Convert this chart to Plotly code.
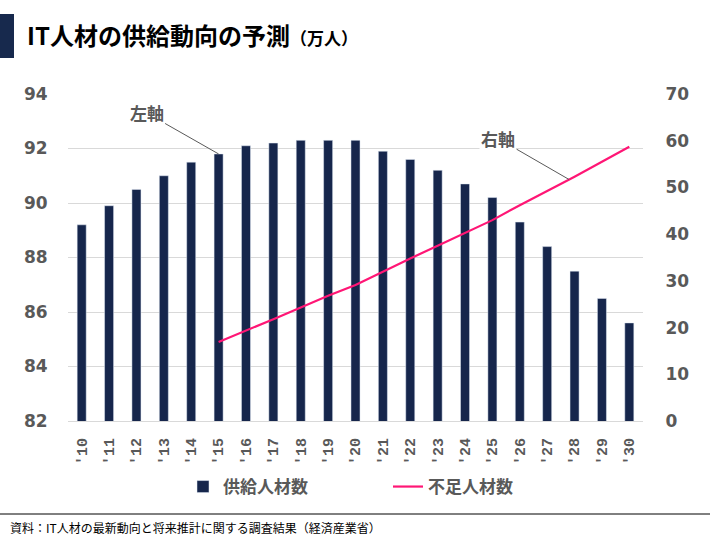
import plotly.graph_objects as go

years = ["'10", "'11", "'12", "'13", "'14", "'15", "'16", "'17", "'18", "'19", "'20",
         "'21", "'22", "'23", "'24", "'25", "'26", "'27", "'28", "'29", "'30"]
supply = [89.2, 89.9, 90.5, 91.0, 91.5, 91.8, 92.1, 92.2, 92.3, 92.3, 92.3,
          91.9, 91.6, 91.2, 90.7, 90.2, 89.3, 88.4, 87.5, 86.5, 85.6]
shortage_years = years[5:]
shortage = [16.9, 19.3, 21.8, 24.3, 26.8, 29.1, 32.0, 34.8, 37.5, 40.2,
            43.0, 46.2, 49.2, 52.3, 55.5, 58.7]
left_ticks = [82, 84, 86, 88, 90, 92, 94]
right_ticks = [0, 10, 20, 30, 40, 50, 60, 70]

NAVY = "#16264C"
PINK = "#FF1675"
GRAY = "#595959"
NUMFONT = "DejaVu Sans, Noto Sans CJK JP"
MONOFONT = "Liberation Mono, DejaVu Sans Mono"
JPFONT = "Noto Sans CJK JP, DejaVu Sans"

# layout geometry (pixels)
W, H = 720, 540
ML, MR, MT, MB = 68, 77, 94, 119
PW = W - ML - MR
PH = H - MT - MB

def px(x):
    return (x - ML) / PW

def py(y):
    return (H - MB - y) / PH

fig = go.Figure()
fig.add_trace(go.Bar(x=years, y=supply, name="供給人材数", marker_color=NAVY,
                     yaxis="y"))
fig.add_trace(go.Scatter(x=shortage_years, y=shortage, name="不足人材数",
                         mode="lines", line=dict(color=PINK, width=2.2),
                         yaxis="y2"))

fig.update_layout(
    width=W, height=H,
    margin=dict(l=ML, r=MR, t=MT, b=MB),
    paper_bgcolor="white", plot_bgcolor="white",
    bargap=0.67,
    showlegend=True,
    legend=dict(orientation="h", x=px(183), xanchor="left", y=py(487), yanchor="middle",
                font=dict(family=JPFONT, size=17, color=GRAY, weight="bold"),
                entrywidth=160, entrywidthmode="pixels", traceorder="normal",
                itemwidth=30),
    title=dict(text="<b>IT人材の供給動向の予測</b><b><span style='font-size:17px'>（万人）</span></b>",
               x=27 / W, xref="container", xanchor="left",
               y=1 - 37 / H, yref="container", yanchor="middle",
               font=dict(family=JPFONT, size=24, color="#000000")),
    xaxis=dict(type="category", tickangle=-90, showgrid=False, zeroline=False,
               showline=True, linecolor="#D9D9D9", linewidth=1,
               ticks="outside", ticklen=10, tickcolor="rgba(0,0,0,0)",
               tickfont=dict(family=MONOFONT, size=15, color=GRAY, weight="bold")),
    yaxis=dict(range=[82, 94], tickvals=left_ticks, showgrid=True, gridcolor="#D9D9D9",
               gridwidth=1, zeroline=False, showline=False,
               ticks="outside", ticklen=16, tickcolor="rgba(0,0,0,0)",
               tickfont=dict(family=NUMFONT, size=17, color=GRAY, weight="bold")),
    yaxis2=dict(range=[0, 70], tickvals=right_ticks, overlaying="y", side="right",
                showgrid=False, zeroline=False, showline=False,
                ticks="outside", ticklen=18, tickcolor="rgba(0,0,0,0)",
                tickfont=dict(family=NUMFONT, size=17, color=GRAY, weight="bold")),
)

# title accent bar
fig.add_shape(type="rect", xref="paper", yref="paper",
              x0=px(0), x1=px(14), y0=py(58), y1=py(14),
              fillcolor="#17294D", line_width=0, layer="above")
# footer rule
fig.add_shape(type="line", xref="paper", yref="paper",
              x0=px(0), x1=px(710), y0=py(514), y1=py(514),
              line=dict(color="#000000", width=1))
fig.add_annotation(text="資料：IT人材の最新動向と将来推計に関する調査結果（経済産業省）",
                   xref="paper", yref="paper", x=px(8), y=py(527),
                   xanchor="left", yanchor="middle", showarrow=False,
                   font=dict(family=JPFONT, size=12, color="#000000"))

# axis callouts
fig.add_annotation(text="左軸", x=5, y=91.8, xref="x", yref="y",
                   ax=-72, ay=-41, showarrow=True, arrowhead=0, arrowwidth=1,
                   arrowcolor=GRAY, bgcolor="white",
                   font=dict(family=JPFONT, size=17, color=GRAY, weight="bold"))
fig.add_annotation(text="右軸", x=17.8, y=51.7, xref="x", yref="y2",
                   ax=-71, ay=-41, showarrow=True, arrowhead=0, arrowwidth=1,
                   arrowcolor=GRAY, bgcolor="white",
                   font=dict(family=JPFONT, size=17, color=GRAY, weight="bold"))

fig.write_html("out.html")
